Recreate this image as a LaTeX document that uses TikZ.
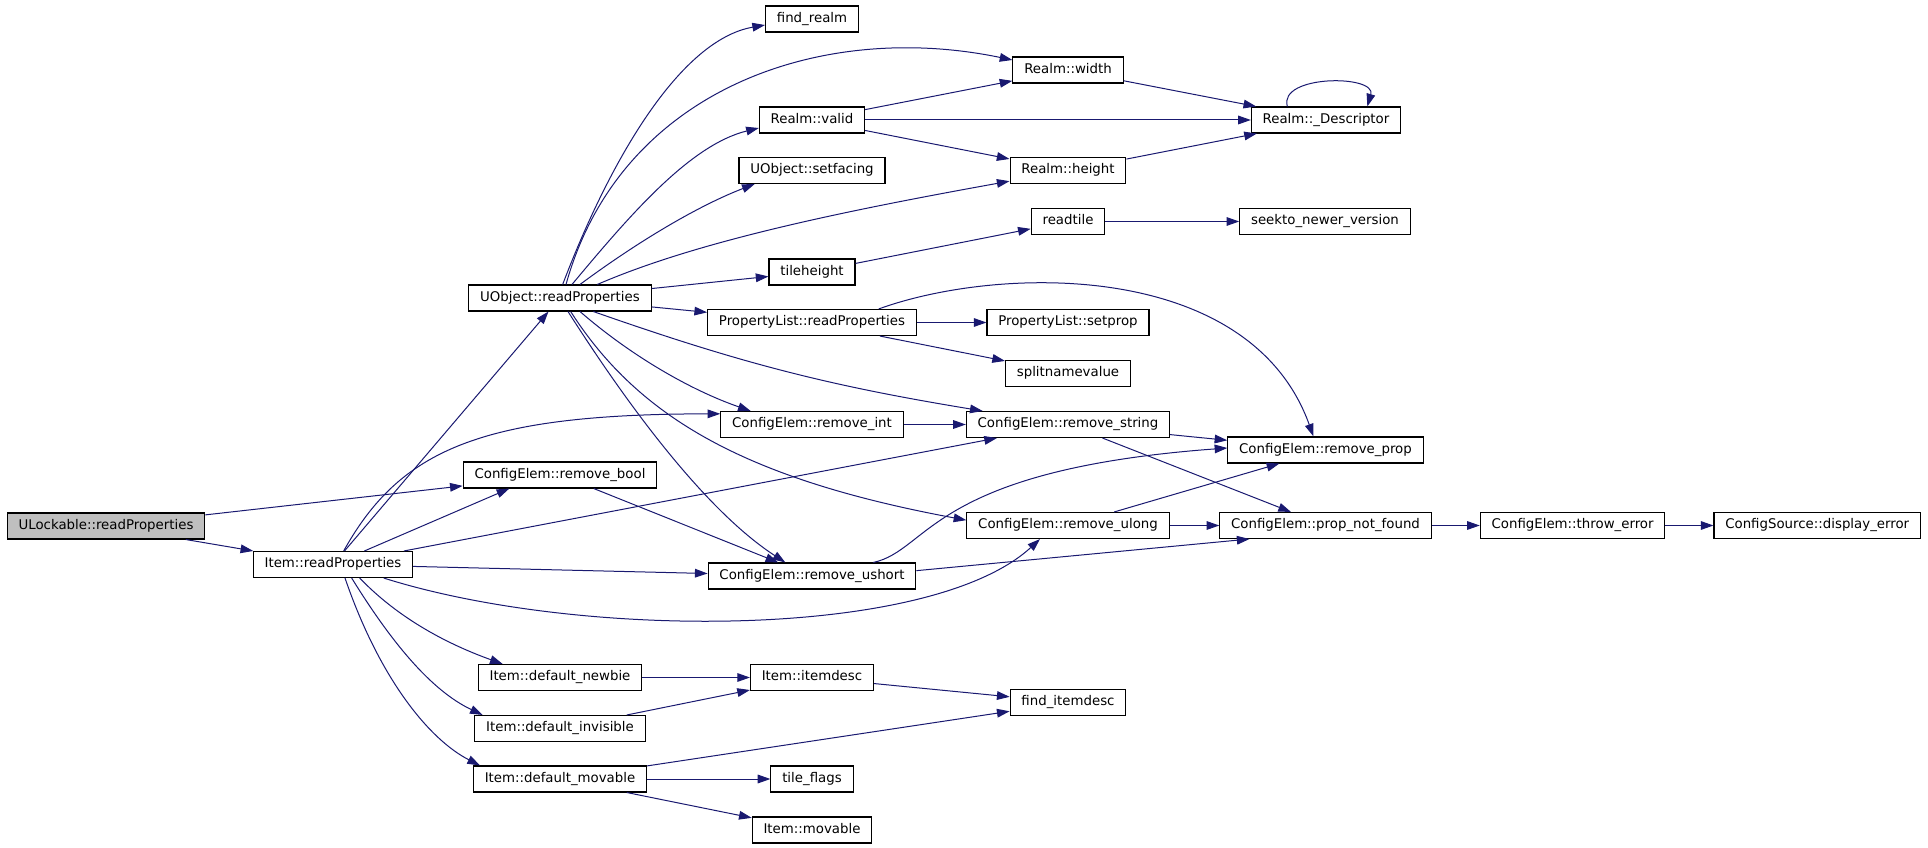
\documentclass[tikz,border=0pt]{standalone}
\usepackage{fontspec}
\setmainfont{DejaVu Sans}
\usetikzlibrary{positioning, arrows.meta}

\definecolor{callblue}{HTML}{191970}

\begin{document}
\begin{tikzpicture}[
    x=0.75pt, y=-0.75pt,
    >={Triangle[length=9.5pt,width=6.5pt]},
    node distance=36pt,
    fnbox/.style={
        rectangle,
        draw,
        fill=white,
        line width=0.8pt,
        minimum height=19.5pt,
        inner xsep=8.5pt,
        inner ysep=0pt,
        text height=7.4pt,
        text depth=2.3pt,
        font=\fontsize{10}{12}\selectfont
    },
    rootbox/.style={fnbox, fill=black!25},
    call/.style={->, draw=callblue, line width=0.75pt}
]

\useasboundingbox (0,0) rectangle (1928,848);

% Callers
\node[rootbox] (ulock) at (106,526) {ULockable::readProperties};
\node[fnbox] (itemrp) at (333,564.5) {Item::readProperties};

% Column 3
\node[fnbox] (uobjrp) at (560,298) {UObject::readProperties};
\node[fnbox] (rmbool) at (560,475) {ConfigElem::remove\_bool};
\node[fnbox] (newbie) at (560,677.5) {Item::default\_newbie};
\node[fnbox] (invis) at (560,728.5) {Item::default\_invisible};
\node[fnbox] (movable) at (560,779) {Item::default\_movable};

% Column 4
\node[fnbox] (findrealm) at (812,19) {find\_realm};
\node[fnbox] (rvalid) at (812,120) {Realm::valid};
\node[fnbox] (setfacing) at (812,170.5) {UObject::setfacing};
\node[fnbox] (tileheight) at (812,272) {tileheight};
\node[fnbox] (plread) at (812,322.5) {PropertyList::readProperties};
\node[fnbox] (rmint) at (812,424.5) {ConfigElem::remove\_int};
\node[fnbox] (rmushort) at (812,576) {ConfigElem::remove\_ushort};
\node[fnbox] (itemdesc) at (812,677.5) {Item::itemdesc};
\node[fnbox] (tileflags) at (812,779) {tile\_flags};
\node[fnbox] (itemmov) at (812,830) {Item::movable};

% Column 5
\node[fnbox] (rwidth) at (1068,70) {Realm::width};
\node[fnbox] (rheight) at (1068,170.5) {Realm::height};
\node[fnbox] (readtile) at (1068,221.5) {readtile};
\node[fnbox] (setprop) at (1068,322.5) {PropertyList::setprop};
\node[fnbox] (splitnv) at (1068,373.5) {splitnamevalue};
\node[fnbox] (rmstring) at (1068,424.5) {ConfigElem::remove\_string};
\node[fnbox] (rmulong) at (1068,525.5) {ConfigElem::remove\_ulong};
\node[fnbox] (finddesc) at (1068,702.5) {find\_itemdesc};

% Column 6 and the error chain
\node[fnbox] (rdesc) at (1326,120) {Realm::\_Descriptor};
\node[fnbox] (seekto) at (1325,221.5) {seekto\_newer\_version};
\node[fnbox] (rmprop) at (1325.5,450) {ConfigElem::remove\_prop};
\node[fnbox] (notfound) at (1325.5,525.5) {ConfigElem::prop\_not\_found};
\node[fnbox, right=of notfound] (throwerr) {ConfigElem::throw\_error};
\node[fnbox, right=of throwerr] (disperr) {ConfigSource::display\_error};

% ULockable::readProperties
\draw[call] (ulock) -- (rmbool);
\draw[call] (ulock) -- (itemrp);

% Item::readProperties
\draw[call] (itemrp) -- (uobjrp);
\draw[call] (itemrp) -- ([xshift=-38pt]rmbool.south);
\draw[call] ([xshift=8pt]itemrp.north) .. controls (400,450) and (480,414) .. ([yshift=8pt]rmint.west);
\draw[call] (itemrp) -- (rmstring);
\draw[call] (itemrp) -- (rmushort);
\draw[call] ([xshift=38pt]itemrp.south) .. controls (580,640) and (930,640) .. ([xshift=-21pt]rmulong.south);
\draw[call] ([xshift=20pt]itemrp.south) .. controls (400,620) and (450,645) .. ([xshift=-43pt]newbie.north);
\draw[call] ([xshift=14pt]itemrp.south) .. controls (390,640) and (430,690) .. ([xshift=-58pt]invis.north);
\draw[call] ([xshift=9pt]itemrp.south) .. controls (380,680) and (430,740) .. ([xshift=-60pt]movable.north);

% UObject::readProperties
\draw[call] ([xshift=2pt]uobjrp.north) .. controls (610,160) and (680,40) .. ([yshift=-4.5pt]findrealm.west);
\draw[call] ([xshift=4.5pt]uobjrp.north) .. controls (620,90) and (820,20) .. ([yshift=7.5pt]rwidth.west);
\draw[call] ([xshift=9pt]uobjrp.north) .. controls (630,215) and (690,145) .. ([yshift=-6pt]rvalid.west);
\draw[call] ([xshift=15pt]uobjrp.north) .. controls (640,240) and (700,205) .. ([xshift=-43pt]setfacing.south);
\draw[call] ([xshift=28pt]uobjrp.north) .. controls (700,240) and (850,210) .. ([yshift=-8pt]rheight.west);
\draw[call] (uobjrp) -- (tileheight);
\draw[call] (uobjrp) -- (plread);
\draw[call] ([xshift=25pt]uobjrp.south) to[bend right=5] ([xshift=-64pt]rmstring.north);
\draw[call] ([xshift=15pt]uobjrp.south) .. controls (630,355) and (690,390) .. ([xshift=-46pt]rmint.north);
\draw[call] ([xshift=8pt]uobjrp.south) .. controls (640,420) and (750,480) .. ([yshift=4pt]rmulong.west);
\draw[call] ([xshift=6pt]uobjrp.south) .. controls (650,440) and (720,520) .. ([xshift=-20pt]rmushort.north);

% ConfigElem::remove_bool
\draw[call] (rmbool) -- (rmushort);

% Realm
\draw[call] (rvalid) -- (rwidth);
\draw[call] (rvalid) -- (rdesc);
\draw[call] (rvalid) -- (rheight);
\draw[call] (rwidth) -- (rdesc);
\draw[call] (rheight) -- (rdesc);
\draw[call] ([xshift=-29pt]rdesc.north) .. controls ([xshift=-36pt,yshift=24pt]rdesc.north) and ([xshift=38pt,yshift=24pt]rdesc.north) .. ([xshift=31pt]rdesc.north);

% Tiles
\draw[call] (tileheight) -- (readtile);
\draw[call] (readtile) -- (seekto);

% PropertyList
\draw[call] (plread) -- (setprop);
\draw[call] (plread) -- (splitnv);
\draw[call] ([xshift=50pt]plread.north) .. controls (1000,265) and (1250,260) .. ([xshift=-9pt]rmprop.north);

% ConfigElem
\draw[call] (rmint) -- (rmstring);
\draw[call] (rmstring) -- (rmprop);
\draw[call] (rmstring) -- (notfound);
\draw[call] (rmulong) -- (rmprop);
\draw[call] (rmulong) -- (notfound);
\draw[call] ([xshift=46pt]rmushort.north) .. controls (930,550) and (930,470) .. ([yshift=1.5pt]rmprop.west);
\draw[call] ([yshift=4pt]rmushort.east) -- ([xshift=-57pt]notfound.south);
\draw[call] (notfound) -- (throwerr);
\draw[call] (throwerr) -- (disperr);

% Item helpers
\draw[call] (newbie) -- (itemdesc);
\draw[call] (invis) -- (itemdesc);
\draw[call] (itemdesc) -- (finddesc);
\draw[call] (movable) -- (finddesc);
\draw[call] (movable) -- (tileflags);
\draw[call] (movable) -- (itemmov);

\end{tikzpicture}
\end{document}
